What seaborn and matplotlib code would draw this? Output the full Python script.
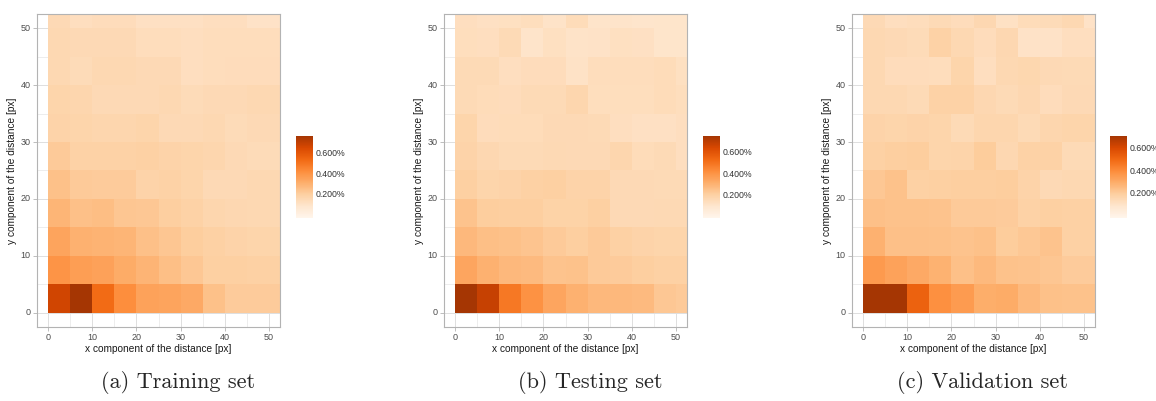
import numpy as np
import pandas as pd
import matplotlib
matplotlib.use('Agg')
import matplotlib.pyplot as plt
import seaborn as sns
from matplotlib.colors import ListedColormap
from matplotlib.ticker import FuncFormatter

# bin starts (px), bins are 5 px wide
x_bins = [0, 5, 10, 15, 20, 25, 30, 35, 40, 45, 50]
y_bins = [0, 5, 10, 15, 20, 25, 30, 35, 40, 45, 50]

# share of samples per bin [%], rows go from y=0 upwards
train_pct = [
    [0.660, 0.755, 0.525, 0.415, 0.345, 0.340, 0.320, 0.243, 0.212, 0.210, 0.210],
    [0.395, 0.360, 0.353, 0.315, 0.288, 0.255, 0.225, 0.196, 0.196, 0.190, 0.190],
    [0.340, 0.300, 0.290, 0.285, 0.252, 0.230, 0.206, 0.190, 0.180, 0.170, 0.170],
    [0.285, 0.252, 0.258, 0.230, 0.225, 0.203, 0.186, 0.165, 0.160, 0.155, 0.155],
    [0.245, 0.215, 0.210, 0.210, 0.180, 0.186, 0.175, 0.145, 0.150, 0.155, 0.155],
    [0.215, 0.186, 0.186, 0.186, 0.190, 0.180, 0.170, 0.165, 0.145, 0.140, 0.140],
    [0.180, 0.170, 0.165, 0.165, 0.175, 0.150, 0.145, 0.155, 0.140, 0.145, 0.145],
    [0.175, 0.165, 0.145, 0.145, 0.145, 0.155, 0.140, 0.145, 0.145, 0.155, 0.155],
    [0.155, 0.140, 0.155, 0.155, 0.150, 0.150, 0.124, 0.130, 0.134, 0.134, 0.134],
    [0.155, 0.145, 0.145, 0.145, 0.130, 0.130, 0.124, 0.130, 0.130, 0.130, 0.130],
    [0.145, 0.124, 0.134, 0.134, 0.114, 0.114, 0.114, 0.124, 0.124, 0.103, 0.103],
]
test_pct = [
    [0.760, 0.680, 0.485, 0.405, 0.340, 0.300, 0.280, 0.280, 0.270, 0.230, 0.220],
    [0.340, 0.300, 0.280, 0.270, 0.243, 0.245, 0.220, 0.215, 0.203, 0.196, 0.196],
    [0.280, 0.258, 0.250, 0.240, 0.218, 0.205, 0.218, 0.196, 0.185, 0.180, 0.180],
    [0.243, 0.210, 0.205, 0.205, 0.190, 0.190, 0.200, 0.155, 0.155, 0.160, 0.160],
    [0.200, 0.180, 0.186, 0.196, 0.200, 0.185, 0.185, 0.155, 0.155, 0.150, 0.150],
    [0.185, 0.165, 0.150, 0.150, 0.160, 0.155, 0.155, 0.170, 0.145, 0.150, 0.130],
    [0.180, 0.140, 0.145, 0.145, 0.155, 0.155, 0.150, 0.130, 0.120, 0.120, 0.130],
    [0.150, 0.145, 0.140, 0.150, 0.150, 0.170, 0.135, 0.135, 0.135, 0.145, 0.135],
    [0.150, 0.150, 0.130, 0.140, 0.140, 0.114, 0.137, 0.137, 0.137, 0.145, 0.124],
    [0.135, 0.130, 0.150, 0.103, 0.124, 0.108, 0.110, 0.124, 0.120, 0.100, 0.100],
    [0.130, 0.120, 0.124, 0.135, 0.108, 0.145, 0.103, 0.103, 0.095, 0.100, 0.100],
]
valid_pct = [
    [0.704, 0.700, 0.516, 0.383, 0.347, 0.292, 0.296, 0.255, 0.232, 0.228, 0.228],
    [0.352, 0.324, 0.301, 0.278, 0.237, 0.255, 0.228, 0.226, 0.218, 0.200, 0.200],
    [0.283, 0.237, 0.237, 0.232, 0.225, 0.232, 0.197, 0.209, 0.225, 0.182, 0.182],
    [0.237, 0.228, 0.228, 0.225, 0.203, 0.203, 0.200, 0.178, 0.186, 0.182, 0.182],
    [0.216, 0.228, 0.182, 0.187, 0.191, 0.191, 0.194, 0.173, 0.145, 0.150, 0.150],
    [0.182, 0.189, 0.195, 0.168, 0.171, 0.197, 0.154, 0.177, 0.177, 0.140, 0.140],
    [0.173, 0.168, 0.173, 0.168, 0.140, 0.159, 0.159, 0.140, 0.159, 0.163, 0.163],
    [0.150, 0.150, 0.140, 0.177, 0.177, 0.154, 0.140, 0.154, 0.131, 0.145, 0.145],
    [0.150, 0.131, 0.131, 0.127, 0.163, 0.121, 0.150, 0.157, 0.145, 0.140, 0.140],
    [0.150, 0.145, 0.136, 0.177, 0.150, 0.131, 0.154, 0.102, 0.102, 0.121, 0.121],
    [0.145, 0.121, 0.127, 0.140, 0.131, 0.154, 0.107, 0.133, 0.136, 0.150, 0.102],
]

captions = ['(a) Training set', '(b) Testing set', '(c) Validation set']
scale_limits = [(-0.03, 0.755), (-0.02, 0.75), (-0.02, 0.70)]
cbar_ticks = [0.2, 0.4, 0.6]
axis_ticks = [0, 10, 20, 30, 40, 50]

sns.set_theme(style='white')
plt.rcParams['font.family'] = ['Liberation Sans', 'DejaVu Sans']

cmap = ListedColormap(plt.cm.Oranges(np.linspace(0, 0.875, 256)))

W, H = 1156, 401
fig = plt.figure(figsize=(W / 100, H / 100), dpi=100)

ax_lefts = [37, 444, 852]
cb_lefts = [296, 703, 1110]
cap_x = [178, 590, 982]

for i, vals in enumerate([train_pct, test_pct, valid_pct]):
    ax = fig.add_axes([ax_lefts[i] / W, 74 / H, 243 / W, 313 / H])
    cax = fig.add_axes([cb_lefts[i] / W, 183 / H, 17 / W, 82 / H])
    df = pd.DataFrame(vals, index=y_bins, columns=x_bins)
    lo, hi = scale_limits[i]
    sns.heatmap(df, ax=ax, cbar_ax=cax, cmap=cmap, vmin=lo, vmax=hi, linewidths=0)

    # heatmap cells sit at integer positions, one per 5 px bin
    ax.set_xlim(-0.5, 10.5)
    ax.set_ylim(-0.5, 10.5)
    ax.set_xticks([t / 5 for t in axis_ticks])
    ax.set_xticklabels(axis_ticks, rotation=0)
    ax.set_yticks([t / 5 for t in axis_ticks])
    ax.set_yticklabels(axis_ticks, rotation=0)
    ax.set_xticks([1, 3, 5, 7, 9], minor=True)
    ax.set_yticks([1, 3, 5, 7, 9], minor=True)
    ax.set_axisbelow(True)
    ax.grid(True, which='major', color='#DEDEDE', lw=0.7)
    ax.grid(True, which='minor', color='#E6E6E6', lw=0.5)
    for s in ax.spines.values():
        s.set_visible(True)
        s.set_color('#B3B3B3')
        s.set_linewidth(0.8)
    ax.tick_params(which='major', bottom=True, left=True, length=3, width=0.6,
                   color='#B3B3B3', labelsize=6.5, labelcolor='#4D4D4D', pad=1.5)
    ax.tick_params(which='minor', length=0)
    ax.set_xlabel('x component of the distance [px]', fontsize=7.3, labelpad=1.2, color='#1A1A1A')
    ax.set_ylabel('y component of the distance [px]', fontsize=7.3, labelpad=2.5, color='#1A1A1A')

    cbar = ax.collections[0].colorbar
    cbar.outline.set_visible(False)
    cbar.set_ticks(cbar_ticks)
    cbar.ax.yaxis.set_major_formatter(FuncFormatter(lambda v, p: f'{v:.3f}%'))
    cax.tick_params(direction='in', left=True, right=True, labelleft=False, labelright=True,
                    length=3, width=0.8, color='white', labelsize=6.3, labelcolor='#333333', pad=2)

    fig.text(cap_x[i] / W, 0.045, captions[i], fontfamily='cmr10', fontsize=16,
             ha='center', va='center')

fig.savefig('out.png', dpi=100)
